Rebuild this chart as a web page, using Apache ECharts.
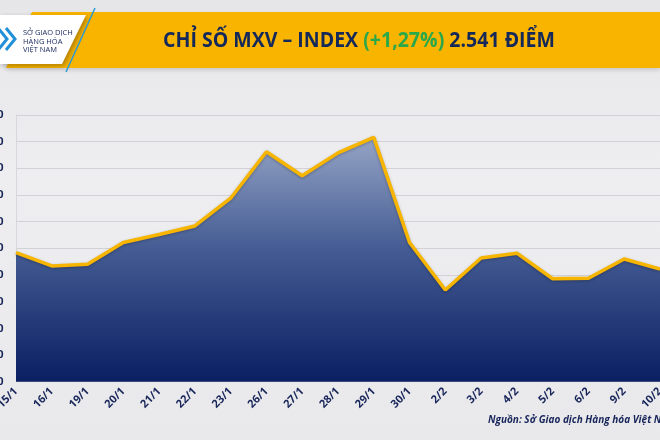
<!DOCTYPE html>
<html>
<head>
<meta charset="utf-8">
<script src="https://cdn.jsdelivr.net/npm/echarts@6/dist/echarts.min.js"></script>
<style>
html,body{margin:0;padding:0;background:#ebebed;}
#c{width:660px;height:440px;}
</style>
</head>
<body>
<div id="c"></div>
<script>
var categories = ['15/1','16/1','19/1','20/1','21/1','22/1','23/1','26/1','27/1','28/1','29/1','30/1','2/2','3/2','4/2','5/2','6/2','9/2','10/2'];
var indexValues = [2492,2467,2470,2511,2526,2542,2594,2681,2636,2679,2708,2511,2422,2482,2491,2443,2444,2480,2461];
var yMin = 2250, yMax = 2750, yStep = 50;
var titleMain = 'CHỈ SỐ MXV – INDEX ';
var titleChange = '(+1,27%)';
var titleTail = ' 2.541 ĐIỂM';
var sourceText = 'Nguồn: Sở Giao dịch Hàng hóa Việt Nam';
var logoLines = ['SỞ GIAO DỊCH','HÀNG HÓA','VIỆT NAM'];

var navy = '#17255a';
var chart = echarts.init(document.getElementById('c'));
chart.setOption({
  backgroundColor: {
    type:'linear', x:0, y:0, x2:0, y2:1,
    colorStops:[{offset:0,color:'#e6e6e8'},{offset:0.4,color:'#eeeef0'},{offset:1,color:'#e9e9eb'}]
  },
  animation:false,
  grid:{left:16, right:0, top:115, bottom:58.3, containLabel:false, outerBoundsMode:'none'},
  xAxis:{
    type:'category', data:categories, boundaryGap:false,
    axisLine:{show:true, lineStyle:{color:'#d8d8dc', width:1}},
    axisTick:{show:false},
    axisLabel:{rotate:45, margin:8, fontSize:11, fontWeight:'bold', color:navy, fontFamily:'Open Sans', interval:0}
  },
  yAxis:{
    type:'value', min:yMin, max:yMax, interval:yStep,
    axisLine:{show:true, lineStyle:{color:'#d8d8dc'}},
    axisTick:{show:false},
    splitLine:{lineStyle:{color:'#d2d2d6', width:1}},
    axisLabel:{margin:12.5, fontSize:11, fontWeight:'bold', color:navy, fontFamily:'Open Sans',
      formatter:function(v){return String(v).replace(/\B(?=(\d{3})+(?!\d))/g,'.');}}
  },
  series:[{
    type:'line', data:indexValues, symbol:'none', smooth:false,
    lineStyle:{color:'#f7b500', width:3.5, shadowColor:'rgba(0,0,0,0.25)', shadowBlur:3, shadowOffsetY:1},
    areaStyle:{
      opacity:1,
      color:{type:'linear', x:0, y:0, x2:0, y2:1,
        colorStops:[{offset:0,color:'#95a4c5'},{offset:0.45,color:'#455d94'},{offset:1,color:'#0a1e62'}]}
    }
  }],
  graphic:[
    {type:'polygon', shape:{points:[[32,12],[660,12],[660,68],[6,68]]},
     style:{fill:'#f9b400', shadowColor:'rgba(0,0,0,0.15)', shadowBlur:4, shadowOffsetY:2}, z:1},
    {type:'polygon', shape:{points:[[0,15],[86,15],[62,64],[0,64]]},
     style:{fill:'#ffffff', shadowColor:'rgba(0,0,0,0.3)', shadowBlur:5, shadowOffsetX:2, shadowOffsetY:2}, z:2},
    {type:'line', shape:{x1:95, y1:8, x2:66, y2:72}, style:{stroke:'#2a9bd8', lineWidth:1.5}, z:3},
    {type:'polyline', shape:{points:[[-2,28],[7,39],[-2,50]]}, style:{stroke:'#2190d8', lineWidth:3, fill:null}, z:3},
    {type:'polyline', shape:{points:[[6,28],[15,39],[6,50]]}, style:{stroke:'#2190d8', lineWidth:3, fill:null}, z:3},
    {type:'text', left:23, top:29, z:3,
     style:{text:logoLines.join('\n'), font:'7.5px "Open Sans"', fill:navy, lineHeight:8.3}},
    {type:'text', x:163, y:41, scaleX:0.93, z:3,
     style:{
       text:'{a|'+titleMain+'}{g|'+titleChange+'}{a|'+titleTail+'}',
       verticalAlign:'middle',
       rich:{
         a:{font:'bold 21px "Open Sans"', fill:'#14285a'},
         g:{font:'bold 21px "Open Sans"', fill:'#2aa84a'}
       }
     }},
    {type:'text', x:488, y:420, z:3,
     style:{text:sourceText, font:'italic bold 10px "Open Sans"', fill:navy, verticalAlign:'middle'}}
  ]
});
</script>
</body>
</html>
